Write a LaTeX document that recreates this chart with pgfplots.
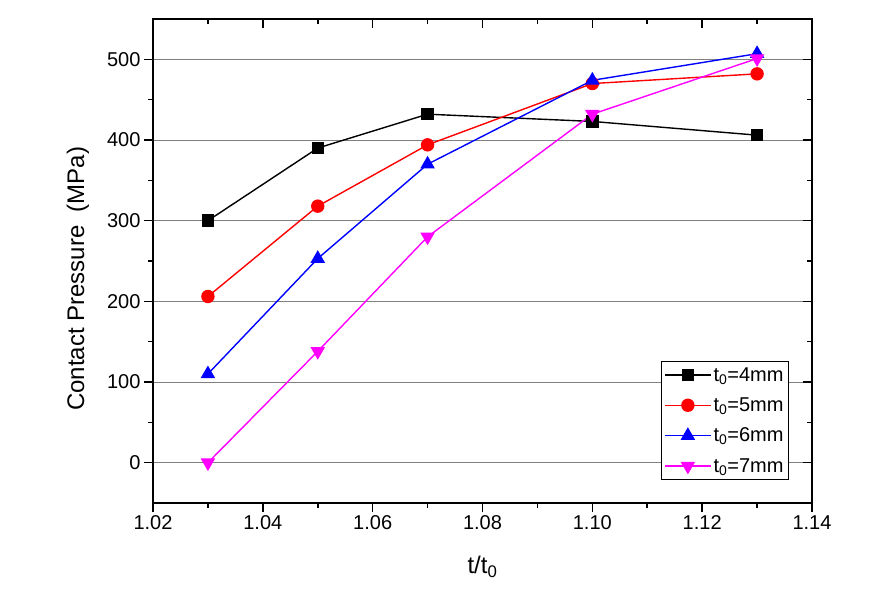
\documentclass[border=0pt]{standalone}
\usepackage{pgfplots}
\pgfplotsset{compat=1.18}
\usepackage{fontspec}
\setmainfont{Liberation Sans}
\definecolor{mag}{RGB}{255,0,255}
\begin{document}
\begin{tikzpicture}[x=1pt,y=1pt]
\useasboundingbox (-153,-105) rectangle (725,503);
\pgfplotsset{common/.style={
  at={(0,0)}, anchor=south west, width=659pt, height=484pt, scale only axis,
  xmin=1.02, xmax=1.14, ymin=-50, ymax=550,
  xtick={1.02,1.04,1.06,1.08,1.10,1.12,1.14},
  ytick={0,100,200,300,400,500},
  minor x tick num=1, minor y tick num=1,
  major tick length=9pt, minor tick length=5pt,
  every tick/.style={black, line width=1.6pt},
  axis line style={line width=2pt},
}}
\begin{axis}[common,
  tick align=outside, xtick pos=left, ytick pos=left,
  ymajorgrids, major grid style={gray, line width=0.9pt},
  /pgf/number format/assume math mode=true,
  tick label style={font=\fontsize{20}{22}\selectfont},
  xticklabel style={/pgf/number format/.cd, fixed, fixed zerofill, precision=2},
  xlabel={t/t\textsubscript{0}},
  ylabel={Contact Pressure\ \ (MPa)},
  label style={font=\fontsize{24}{27}\selectfont},
  xlabel style={at={(axis description cs:0.5,-0.132)}, anchor=center},
  ylabel style={at={(axis description cs:-0.114,0.463)}, anchor=center},
  legend style={at={(rel axis cs:0.965,0.0475)}, anchor=south east,
    draw=black, line width=0.8pt, font=\fontsize{20}{22}\selectfont,
    row sep=11pt, inner xsep=3pt, inner ysep=4pt},
  legend cell align=left,
  legend image code/.code={\draw[line width=1.4pt, mark repeat=2, mark phase=2]
    plot coordinates {(0pt,0pt) (23pt,0pt) (46pt,0pt)};},
]
\addplot[black, line width=1.4pt, mark=square*, mark size=5.5pt, mark options={solid}]
  coordinates {(1.03,300) (1.05,390) (1.07,432) (1.10,423) (1.13,406)};
\addlegendentry{t\textsubscript{0}=4mm}
\addplot[red, line width=1.4pt, mark=*, mark size=6pt]
  coordinates {(1.03,206) (1.05,318) (1.07,394) (1.10,470) (1.13,482)};
\addlegendentry{t\textsubscript{0}=5mm}
\addplot[blue, line width=1.4pt, mark=triangle*, mark size=7pt]
  coordinates {(1.03,110) (1.05,253) (1.07,370) (1.10,474) (1.13,507)};
\addlegendentry{t\textsubscript{0}=6mm}
\addplot[mag, line width=1.4pt, mark=triangle*, mark size=7pt, mark options={rotate=180}]
  coordinates {(1.03,0) (1.05,138) (1.07,280) (1.10,432) (1.13,501)};
\addlegendentry{t\textsubscript{0}=7mm}
\end{axis}
\begin{axis}[common,
  tick align=inside, xtick pos=right, ytick pos=right,
  xticklabels={}, yticklabels={},
]
\end{axis}
\end{tikzpicture}
\end{document}
